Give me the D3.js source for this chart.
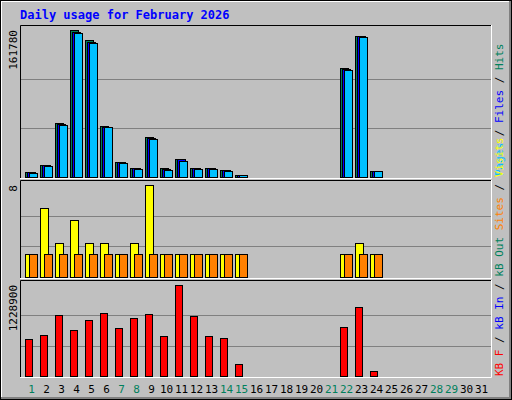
<!DOCTYPE html>
<html><head><meta charset="utf-8">
<script src="https://cdn.jsdelivr.net/npm/d3@7"></script>
<style>body{margin:0;background:#fff}svg{display:block}text{font-family:"DejaVu Sans Mono",monospace}</style>
</head><body>
<svg id="chart" width="512" height="400"></svg>
<script>
// Webalizer-style daily usage
const days = d3.range(1, 32);
const weekendDays = [1, 7, 8, 14, 15, 21, 22, 28, 29];
const hits  = [5700, 13700, 59800, 161780, 150800, 56500, 17000, 10400, 44400, 10400, 20300, 10400, 10400, 8200, 2700, 0, 0, 0, 0, 0, 0, 119600, 155700, 6600, 0, 0, 0, 0, 0, 0, 0];
const files = [5200, 13200, 58000, 159500, 149000, 55300, 16400, 9700, 43200, 9300, 19300, 9800, 9800, 7700, 2200, 0, 0, 0, 0, 0, 0, 118600, 154800, 6300, 0, 0, 0, 0, 0, 0, 0];
const pages = [4400, 11800, 57600, 158000, 147300, 55000, 15600, 8600, 42000, 7800, 17600, 8600, 8600, 6500, 2200, 0, 0, 0, 0, 0, 0, 117800, 154000, 6600, 0, 0, 0, 0, 0, 0, 0];
const visits = [2, 6, 3, 5, 3, 3, 2, 3, 8, 2, 2, 2, 2, 2, 2, 0, 0, 0, 0, 0, 0, 2, 3, 2, 0, 0, 0, 0, 0, 0, 0];
const sites  = [2, 2, 2, 2, 2, 2, 2, 2, 2, 2, 2, 2, 2, 2, 2, 0, 0, 0, 0, 0, 0, 2, 2, 2, 0, 0, 0, 0, 0, 0, 0];
const kbytes = [505000, 554800, 822800, 625800, 755800, 849600, 648600, 782600, 836200, 541400, 1228900, 809400, 541400, 514600, 166200, 0, 0, 0, 0, 0, 0, 666000, 934000, 63000, 0, 0, 0, 0, 0, 0, 0];
const maxHits = 161780, maxVisits = 8, maxKB = 1228900;

const svg = d3.select("#chart");
const C = { bg: "#c0c0c0", hits: "#00805c", files: "#0000ff", pages: "#00c0ff", visits: "#ffff00", sites: "#ff8000", kb: "#ff0000", grid: "#808080" };

svg.append("rect").attr("width", 512).attr("height", 400).attr("fill", C.bg);
// 3D frame
svg.append("path").attr("d", "M1,399V1H511").attr("stroke", "#fff").attr("stroke-width", 2).attr("fill", "none");
svg.append("path").attr("d", "M1,398.5H510.5V1").attr("stroke", "#808080").attr("stroke-width", 3).attr("fill", "none");
svg.append("rect").attr("x", 0.5).attr("y", 0.5).attr("width", 511).attr("height", 399).attr("fill", "none").attr("stroke", "#000");

svg.append("text").attr("x", 20).attr("y", 19).attr("fill", "#0000ff").attr("font-size", 12).attr("font-weight", "bold").text("Daily usage for February 2026");

const x = d3.scaleBand().domain(days).range([23, 488]).paddingInner(0);
const left = 20, right = 491;

const panels = [
  { top: 25, bottom: 177, max: maxHits, label: "161780" },
  { top: 180, bottom: 277, max: maxVisits, label: "8" },
  { top: 280, bottom: 376, max: maxKB, label: "1228900" }
];
const scales = panels.map(p => d3.scaleLinear().domain([0, p.max]).range([p.bottom, p.top + 5]));

panels.forEach((p, i) => {
  const y = scales[i];
  svg.append("rect").attr("x", left).attr("y", p.top).attr("width", right - left).attr("height", p.bottom - p.top + 1).attr("fill", C.bg);
  [1 / 3, 2 / 3].forEach(f => {
    svg.append("line").attr("x1", left).attr("x2", right).attr("y1", Math.round(y(p.max * f)) + 0.5).attr("y2", Math.round(y(p.max * f)) + 0.5).attr("stroke", C.grid);
  });
  svg.append("path").attr("d", `M${left + 0.5},${p.bottom + 1}V${p.top + 0.5}H${right}`).attr("stroke", "#000").attr("fill", "none");
  svg.append("path").attr("d", `M${left},${p.bottom + 1.5}H${right + 0.5}V${p.top}`).attr("stroke", "#fff").attr("fill", "none");
  svg.append("text").attr("transform", `translate(17,${p.top + 5}) rotate(-90)`).attr("text-anchor", "end").attr("font-size", 11).attr("fill", "#000").text(p.label);
});

function bars(values, yScale, offset, width, color) {
  svg.append("g").selectAll("rect").data(days.filter((d, i) => values[i] > 0)).join("rect")
    .attr("x", d => x(d) + offset + 0.5)
    .attr("y", d => Math.round(yScale(values[d - 1])) + 0.5)
    .attr("width", width)
    .attr("height", d => Math.max(1, yScale(0) - Math.round(yScale(values[d - 1]))))
    .attr("fill", color).attr("stroke", "#000");
}
bars(hits, scales[0], 2, 8, C.hits);
bars(files, scales[0], 4, 8, C.files);
bars(pages, scales[0], 6, 8, C.pages);
bars(visits, scales[1], 2, 8, C.visits);
bars(sites, scales[1], 6, 8, C.sites);
bars(kbytes, scales[2], 2, 7, C.kb);

// day labels
svg.append("g").selectAll("text").data(days).join("text")
  .attr("x", d => x(d) + x.bandwidth() / 2 + 1).attr("y", 393)
  .attr("text-anchor", "middle").attr("font-size", 11)
  .attr("fill", d => weekendDays.includes(d) ? C.hits : "#000")
  .text(d => d);

// right-side legends (rotated, bottom to top)
function legend(yStart, parts) {
  const t = svg.append("text").attr("transform", `translate(503,${yStart}) rotate(-90)`).attr("font-size", 11);
  parts.forEach(([s, c]) => t.append("tspan").attr("fill", c).text(s));
}
legend(176, [["Pages", C.pages], [" / ", "#000"], ["Files", C.files], [" / ", "#000"], ["Hits", C.hits]]);
legend(376, [["KB F", C.kb], [" / ", "#000"], ["kB In", C.files], [" / ", "#000"], ["kB Out", C.hits], [" Sites", C.sites], [" / ", "#000"], ["Visits", C.visits]]);
</script>
</body></html>
